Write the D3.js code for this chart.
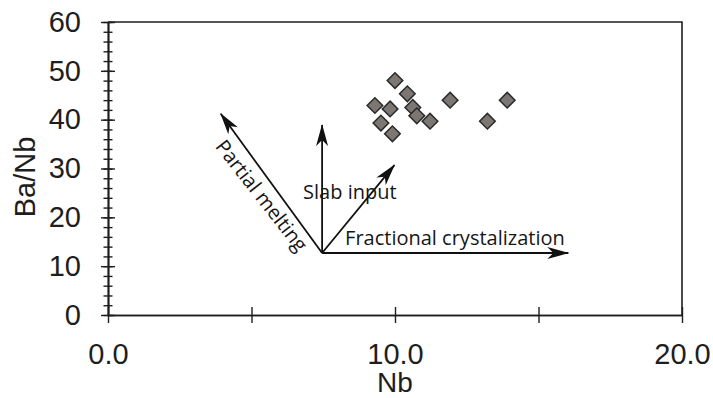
<!DOCTYPE html>
<html>
<script src="https://d3js.org/d3.v7.min.js"></script>
<head>
    <title>Ba/Nb vs Nb</title>
    <meta charset="UTF-8">
    <style type="text/css">
        body { margin: 0; background: #fff; }
        .axis path,
        .axis line {
            fill: none;
            stroke: #1e1e1e;
            stroke-width: 1.4;
        }
        .axis text {
            font-family: "Liberation Sans", Arial, sans-serif;
            font-size: 29px;
            fill: #1e1e1e;
        }
        .note {
            font-family: "Open Sans", sans-serif;
            font-size: 20px;
            fill: #161616;
        }
    </style>
</head>
<body>
<script type="text/javascript">
    // samples
    var nb   = [10.0, 10.43, 9.30, 9.83, 10.62, 10.76, 11.22, 9.51, 9.91, 11.92, 13.22, 13.91];
    var baNb = [48.0, 45.3, 42.9, 42.2, 42.5, 40.8, 39.7, 39.3, 37.1, 44.0, 39.7, 44.0];

    // tick values
    var xMajor = [0, 5, 10, 15, 20];
    var xLabels = [0, 10, 20];
    var yMajor = [0, 10, 20, 30, 40, 50, 60];
    var yMinor = d3.range(0, 61, 2);

    // process arrows (data units), all starting from one point
    var arrowOrigin = [7.46, 12.7];
    var arrowNames = ["Partial melting", "", "Slab input", "Fractional crystalization"];
    var arrowTipX = [3.93, 7.46, 9.98, 16.04];
    var arrowTipY = [41.2, 38.9, 30.7, 12.7];

    var width = 713, height = 398;

    var x = d3.scaleLinear().domain([0, 20]).range([108, 682]);
    var y = d3.scaleLinear().domain([0, 60]).range([315, 22]);

    var svg = d3.select("body").append("svg")
        .attr("width", width)
        .attr("height", height);

    var defs = svg.append("defs");
    defs.append("marker")
        .attr("id", "head")
        .attr("viewBox", "0 0 22 12")
        .attr("markerUnits", "userSpaceOnUse")
        .attr("markerWidth", 22)
        .attr("markerHeight", 12)
        .attr("refX", 21)
        .attr("refY", 6)
        .attr("orient", "auto")
        .append("path")
        .attr("d", "M0,0 L22,6 L0,12 L6,6 Z")
        .attr("fill", "#111");

    // frame top + right
    svg.append("path")
        .attr("d", "M" + x(0) + "," + y(60) + "H" + x(20) + "V" + y(0))
        .attr("fill", "none")
        .attr("stroke", "#1e1e1e")
        .attr("stroke-width", 1.6);

    // y axis: major ticks cross the line, minor every 2
    var yG = svg.append("g").attr("class", "axis").attr("transform", "translate(" + x(0) + ",0)");
    yG.append("g").call(d3.axisLeft(y).tickValues(yMinor).tickSize(4.5).tickSizeOuter(0).tickFormat(""));
    yG.append("g").call(d3.axisRight(y).tickValues(yMinor).tickSize(4.5).tickSizeOuter(0).tickFormat(""));
    yG.append("g").call(d3.axisRight(y).tickValues(yMajor).tickSize(7).tickSizeOuter(0).tickFormat(""));
    yG.append("g").call(d3.axisLeft(y).tickValues(yMajor).tickSize(7).tickSizeOuter(0).tickPadding(20));
    yG.selectAll("text").attr("font-family", null).attr("font-size", null);

    // x axis
    var xG = svg.append("g").attr("class", "axis").attr("transform", "translate(0," + y(0) + ")");
    xG.append("g").call(d3.axisTop(x).tickValues(xMajor).tickSize(8).tickSizeOuter(0).tickFormat(""));
    xG.append("g").call(d3.axisBottom(x).tickValues(xMajor).tickSize(8).tickSizeOuter(0).tickFormat(""));
    xG.append("g").call(d3.axisBottom(x).tickValues(xLabels).tickSize(0).tickSizeOuter(0)
        .tickPadding(28).tickFormat(d3.format(".1f")))
        .select(".domain").remove();
    xG.selectAll("text").attr("font-family", null).attr("font-size", null);

    // axis titles
    svg.append("text")
        .attr("x", x(10))
        .attr("y", 392)
        .attr("text-anchor", "middle")
        .style("font-family", "'Liberation Sans', Arial, sans-serif")
        .style("font-size", "28px")
        .attr("fill", "#1e1e1e")
        .text("Nb");

    svg.append("text")
        .attr("transform", "translate(35,177) rotate(-90)")
        .attr("text-anchor", "middle")
        .style("font-family", "'Liberation Sans', Arial, sans-serif")
        .style("font-size", "29px")
        .attr("fill", "#1e1e1e")
        .text("Ba/Nb");

    // arrows
    var ox = x(arrowOrigin[0]), oy = y(arrowOrigin[1]);
    arrowTipX.forEach(function (tx, i) {
        svg.append("line")
            .attr("x1", ox).attr("y1", oy)
            .attr("x2", x(tx)).attr("y2", y(arrowTipY[i]))
            .attr("stroke", "#111")
            .attr("stroke-width", 1.8)
            .attr("marker-end", "url(#head)");
    });

    // arrow labels
    var tx0 = x(arrowTipX[0]), ty0 = y(arrowTipY[0]);
    var ang = Math.atan2(oy - ty0, ox - tx0) * 180 / Math.PI - 2;
    svg.append("text").attr("class", "note")
        .attr("transform", "translate(" + (ox - 66) + "," + (oy - 53) + ") rotate(" + ang + ")")
        .attr("text-anchor", "middle")
        .text(arrowNames[0]);
    svg.append("text").attr("class", "note")
        .attr("x", ox - 19).attr("y", oy - 54)
        .text(arrowNames[2]);
    svg.append("text").attr("class", "note")
        .attr("x", ox + 23).attr("y", oy - 8)
        .text(arrowNames[3]);

    // samples as diamonds
    svg.append("g").selectAll("path")
        .data(nb)
        .enter().append("path")
        .attr("d", d3.symbol(d3.symbolSquare, 122))
        .attr("transform", function (d, i) {
            return "translate(" + x(d) + "," + y(baNb[i]) + ") rotate(45)";
        })
        .attr("fill", "#7c7772")
        .attr("stroke", "#2a2a2a")
        .attr("stroke-width", 1.5);
</script>
</body>
</html>
